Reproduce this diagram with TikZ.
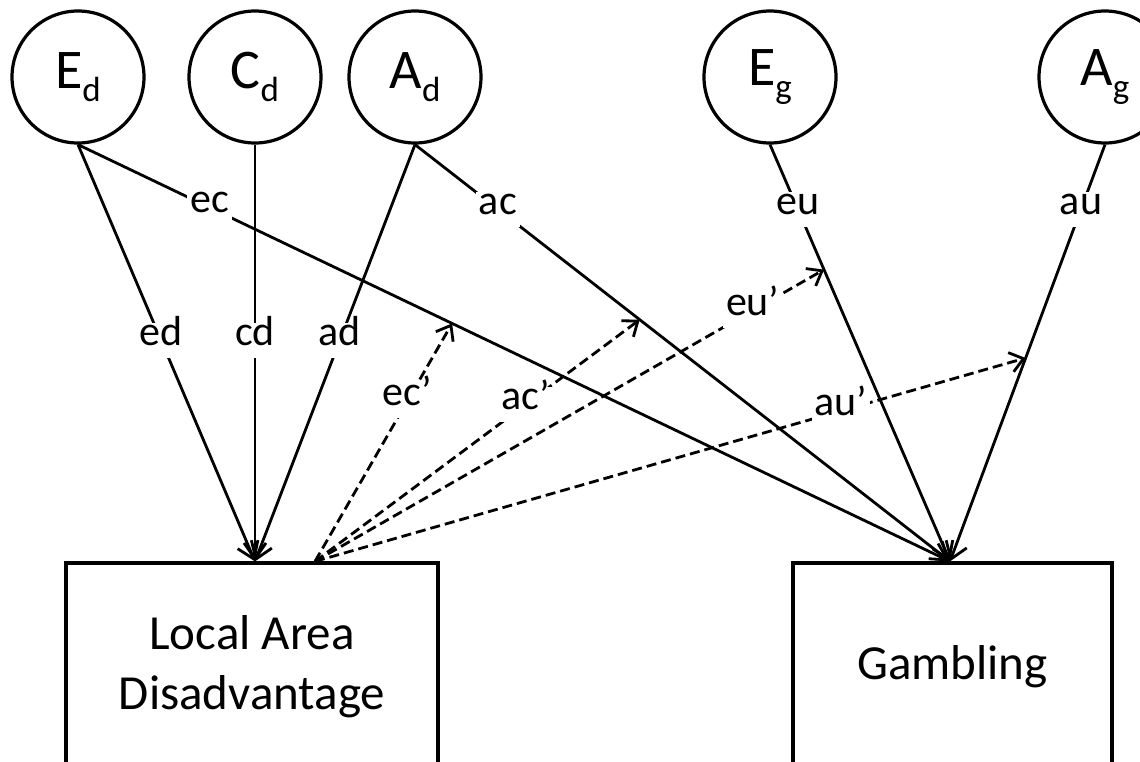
\documentclass[tikz,border=0pt]{standalone}
\usepackage{fontspec}
\setmainfont{Carlito}
\usetikzlibrary{arrows.meta,calc}
\newcommand\latsub[1]{\raisebox{-0.22em}{\fontsize{17.5}{18}\selectfont #1}}
\tikzset{
	latent/.style={draw, circle, line width=1.6pt, minimum size=66pt, inner sep=0pt, font=\fontsize{28}{30}\selectfont},
	observed/.style={draw, rectangle, line width=1.6pt, minimum height=104pt, align=center, font=\fontsize{24.5}{30}\selectfont},
	solidpath/.style={line width=1.4pt, -{Straight Barb[length=8pt,width=11pt,line width=1.4pt]}},
	dashpath/.style={line width=1.4pt, dash pattern=on 5pt off 2.5pt, -{Straight Barb[length=6.5pt,width=10pt,line width=1.4pt]}},
	coef/.style={fill=white, inner xsep=1.5pt, inner ysep=4pt, text height=0.72em, text depth=0.22em, font=\fontsize{21}{22}\selectfont}
}
\begin{document}
\begin{tikzpicture}[x=0.5pt,y=-0.5pt]
	\useasboundingbox (0,0) rectangle (1140,761);
	\clip (0,0) rectangle (1140,761);
	% latent factors
	\node[latent] (Ed) at (78,77) {E\latsub{d}};
	\node[latent] (Cd) at (255,77) {C\latsub{d}};
	\node[latent] (Ad) at (415,77) {A\latsub{d}};
	\node[latent] (Eg) at (770,77) {E\latsub{g}};
	\node[latent] (Ag) at (1105,77) {A\latsub{g}};
	% observed variables
	\node[observed, minimum width=186pt] (lad) at (252,667) {Local Area\\Disadvantage};
	\node[observed, minimum width=159.5pt] (gam) at (952.5,667) {Gambling};
	\coordinate (ladin) at ($(lad.north)+(3,0)$);
	\coordinate (ladout) at ($(lad.north)+(63,0)$);
	\coordinate (gamin) at ($(gam.north)+(-2.5,0)$);
	% paths to disadvantage
	\draw[solidpath] (Ed.south) -- node[coef, pos=0.47]{ed} (ladin);
	\draw[solidpath] (Cd.south) -- node[coef, pos=0.47]{cd} (ladin);
	\draw[solidpath] (Ad.south) -- node[coef, pos=0.47]{ad} (ladin);
	% paths to gambling
	\draw[solidpath] (Ed.south) -- node[coef, pos=0.151]{ec} coordinate[pos=0.429] (ecend) (gamin);
	\draw[solidpath] (Ad.south) -- node[coef, pos=0.155]{ac} coordinate[pos=0.42] (acend) (gamin);
	\draw[solidpath] (Eg.south) -- node[coef, pos=0.155]{eu} coordinate[pos=0.30] (euend) (gamin);
	\draw[solidpath] (Ag.south) -- node[coef, pos=0.155]{au} coordinate[pos=0.512] (auend) (gamin);
	% moderation by disadvantage
	\draw[dashpath] (ladout) -- node[coef, pos=0.675]{ec’} (ecend);
	\draw[dashpath] (ladout) -- node[coef, pos=0.65]{ac’} (acend);
	\draw[dashpath] (ladout) -- node[coef, pos=0.86]{eu’} (euend);
	\draw[dashpath] (ladout) -- node[coef, pos=0.74]{au’} (auend);
\end{tikzpicture}
\end{document}
